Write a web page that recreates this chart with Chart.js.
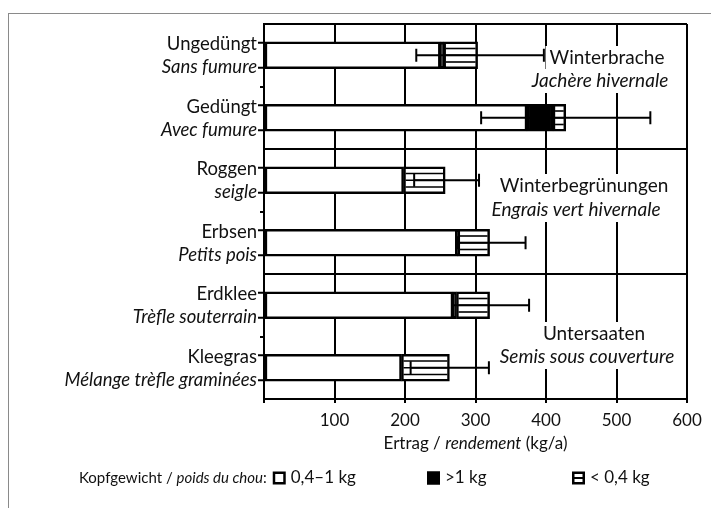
<!DOCTYPE html>
<html><head><meta charset="utf-8">
<script src="https://cdn.jsdelivr.net/npm/chart.js@4.4.1/dist/chart.umd.min.js"></script>
<style>
html,body{margin:0;padding:0;background:#fff;}
#wrap{position:relative;width:711px;height:508px;overflow:hidden;background:#fff;}
#frame{position:absolute;left:8px;top:13px;width:800px;height:600px;border-left:1.5px solid #8a8a8a;border-top:1.5px solid #8a8a8a;}
canvas{position:absolute;left:0;top:0;}
</style></head><body>
<div id="wrap"><div id="frame"></div><canvas id="c" width="711" height="508"></canvas></div>
<script>
// ---- data ----
const categoriesDE = ['Ungedüngt', 'Gedüngt', 'Roggen', 'Erbsen', 'Erdklee', 'Kleegras'];
const categoriesFR = ['Sans fumure', 'Avec fumure', 'seigle', 'Petits pois', 'Trèfle souterrain', 'Mélange trèfle graminées'];
const yield04to1 = [250, 373, 198, 274, 268, 195];   // 0,4–1 kg
const yieldOver1 = [5, 37, 0, 1, 5, 0];              // >1 kg
const yieldUnder04 = [48, 18, 59, 45, 47, 68];       // < 0,4 kg
const errLow = [216, 308, 213, 274, 268, 208];
const errHigh = [397, 548, 305, 371, 376, 319];
const xTickValues = [0, 100, 200, 300, 400, 500, 600];
const groupNotesDE = ['Winterbrache', 'Winterbegrünungen', 'Untersaaten'];
const groupNotesFR = ['Jachère hivernale', 'Engrais vert hivernale', 'Semis sous couverture'];
const legendTitleDE = 'Kopfgewicht / ';
const legendTitleFR = 'poids du chou';
const legendLabels = ['0,4–1 kg', '>1 kg', '< 0,4 kg'];
const axisTitleDE = 'Ertrag / ';
const axisTitleFR = 'rendement';
const axisTitleUnit = ' (kg/a)';

// ---- layout / style ----
const FONT = 'Lato, "Open Sans", sans-serif';
const TXT = '#111';
const noteLayout = [ // centre x of each line (px), centre y of first line (px), line gap
  {x: [607, 600], y: 58, gap: 23},
  {x: [584, 576], y: 186, gap: 24},
  {x: [594, 587], y: 334, gap: 23}
];
const legendLayout = {y: 478, x0: 79, iconX: [268, 427, 572]};

const labelsPlugin = {
  id: 'labelsPlugin',
  afterDatasetsDraw(chart) {
    const ctx = chart.ctx, xs = chart.scales.x, ca = chart.chartArea;
    const hm = chart.getDatasetMeta(2);
    ctx.save();
    ctx.strokeStyle = '#000';
    // small stubs of the bar outlines left of the axis
    ctx.lineWidth = 2;
    chart.getDatasetMeta(0).data.forEach(el => {
      const p = el.getProps(['y', 'height'], true);
      [p.y - p.height / 2 + 1, p.y + p.height / 2 - 1].forEach(yy => {
        ctx.beginPath(); ctx.moveTo(ca.left - 6, yy); ctx.lineTo(ca.left, yy); ctx.stroke();
      });
    });
    // hatch lines in "< 0,4 kg" segments
    ctx.lineWidth = 1.6;
    hm.data.forEach(el => {
      const p = el.getProps(['x', 'base', 'y', 'height'], true);
      const l = Math.min(p.x, p.base) + 2, r = Math.max(p.x, p.base) - 2;
      if (r <= l) return;
      const top = p.y - p.height / 2;
      for (let k = 1; k <= 3; k++) {
        const yy = top + k * p.height / 4;
        ctx.beginPath(); ctx.moveTo(l, yy); ctx.lineTo(r, yy); ctx.stroke();
      }
    });
    // error bars
    ctx.lineWidth = 2;
    hm.data.forEach((el, i) => {
      const y = el.getProps(['y'], true).y;
      const a = xs.getPixelForValue(errLow[i]), b = xs.getPixelForValue(errHigh[i]);
      ctx.beginPath();
      ctx.moveTo(a, y); ctx.lineTo(b, y);
      ctx.moveTo(a, y - 6.5); ctx.lineTo(a, y + 6.5);
      ctx.moveTo(b, y - 6.5); ctx.lineTo(b, y + 6.5);
      ctx.stroke();
    });
    ctx.restore();
  },
  afterDraw(chart) {
    const ctx = chart.ctx, ys = chart.scales.y, ca = chart.chartArea;
    ctx.save();
    ctx.fillStyle = TXT;
    ctx.textBaseline = 'alphabetic';
    // category labels
    ctx.textAlign = 'right';
    categoriesDE.forEach((lab, i) => {
      const y = ys.getPixelForValue(i);
      ctx.font = '18.5px ' + FONT;
      ctx.fillText(lab, ca.left - 7, y - 5);
      ctx.font = 'italic 18.5px ' + FONT;
      ctx.fillText(categoriesFR[i], ca.left - 7, y + 18);
    });
    // group notes with white background
    ctx.textAlign = 'center'; ctx.textBaseline = 'middle';
    groupNotesDE.forEach((lab, g) => {
      const L = noteLayout[g];
      const lines = [[lab, '19px ' + FONT, L.y, L.x[0]], [groupNotesFR[g], 'italic 19px ' + FONT, L.y + L.gap, L.x[1]]];
      lines.forEach(([t, f, y, x]) => {
        ctx.font = f;
        const w = ctx.measureText(t).width;
        ctx.fillStyle = '#fff';
        ctx.fillRect(x - w / 2 - 4, y - 12, w + 8, 24);
      });
      lines.forEach(([t, f, y, x]) => {
        ctx.font = f; ctx.fillStyle = TXT;
        ctx.fillText(t, x, y);
      });
    });
    // axis title
    ctx.textAlign = 'left'; ctx.textBaseline = 'middle';
    const parts = [[axisTitleDE, '17px ' + FONT], [axisTitleFR, 'italic 17px ' + FONT], [axisTitleUnit, '17px ' + FONT]];
    let tw = 0;
    parts.forEach(([t, f]) => { ctx.font = f; tw += ctx.measureText(t).width; });
    let tx = (ca.left + ca.right) / 2 - tw / 2;
    parts.forEach(([t, f]) => { ctx.font = f; ctx.fillText(t, tx, 444); tx += ctx.measureText(t).width; });
    // legend
    const ly = legendLayout.y;
    let lx = legendLayout.x0;
    [[legendTitleDE, '15px ' + FONT], [legendTitleFR, 'italic 15px ' + FONT], [':', '15px ' + FONT]].forEach(([t, f]) => {
      ctx.font = f; ctx.fillText(t, lx, ly); lx += ctx.measureText(t).width;
    });
    legendLabels.forEach((lab, k) => {
      const ix = k === 0 ? Math.max(legendLayout.iconX[0], lx + 6) : legendLayout.iconX[k], s = 13;
      ctx.lineWidth = 2.5; ctx.strokeStyle = '#000';
      ctx.fillStyle = k === 1 ? '#000' : '#fff';
      ctx.fillRect(ix, ly - s / 2, s, s);
      ctx.strokeRect(ix + 1.25, ly - s / 2 + 1.25, s - 2.5, s - 2.5);
      if (k === 2) {
        ctx.lineWidth = 2;
        ctx.beginPath(); ctx.moveTo(ix + 1, ly); ctx.lineTo(ix + s - 1, ly); ctx.stroke();
      }
      ctx.fillStyle = TXT; ctx.font = '17px ' + FONT;
      ctx.fillText(lab, ix + s + 5, ly);
    });
    ctx.restore();
  }
};

const chart = new Chart(document.getElementById('c'), {
  type: 'bar',
  data: {
    labels: categoriesDE,
    datasets: [
      {label: legendLabels[0], data: yield04to1, backgroundColor: '#fff'},
      {label: legendLabels[1], data: yieldOver1, backgroundColor: '#000'},
      {label: legendLabels[2], data: yieldUnder04, backgroundColor: '#fff'}
    ]
  },
  options: {
    indexAxis: 'y',
    responsive: false,
    animation: false,
    devicePixelRatio: 1,
    layout: {padding: {left: 0, top: 24, right: 24, bottom: 0}},
    datasets: {bar: {barThickness: 27, borderColor: '#000', borderWidth: 2.5, borderSkipped: false}},
    plugins: {legend: {display: false}, tooltip: {enabled: false}},
    scales: {
      x: {
        type: 'linear', stacked: true, min: 0, max: 600,
        afterBuildTicks: s => { s.ticks = xTickValues.map(v => ({value: v})); },
        afterFit: s => { s.height = 109; },
        border: {color: '#000', width: 2},
        grid: {
          color: c => (c.tick && c.tick.value === 0) ? 'rgba(0,0,0,0)' : '#000',
          tickColor: '#000', lineWidth: 2, tickLength: 4
        },
        ticks: {
          color: TXT, font: {family: FONT, size: 17}, padding: 7,
          callback: v => v === 0 ? '' : String(v)
        }
      },
      y: {
        type: 'category', stacked: true,
        afterFit: s => { s.width = 264; },
        border: {color: '#000', width: 2},
        grid: {
          offset: true, lineWidth: 2, tickLength: 4,
          color: c => (c.index === 0 || c.index === 2 || c.index === 4) ? '#000' : 'rgba(0,0,0,0)',
          tickColor: c => (c.index === 1 || c.index === 3 || c.index === 5) ? '#000' : 'rgba(0,0,0,0)'
        },
        ticks: {display: false}
      }
    }
  },
  plugins: [labelsPlugin]
});
</script>
</body></html>
